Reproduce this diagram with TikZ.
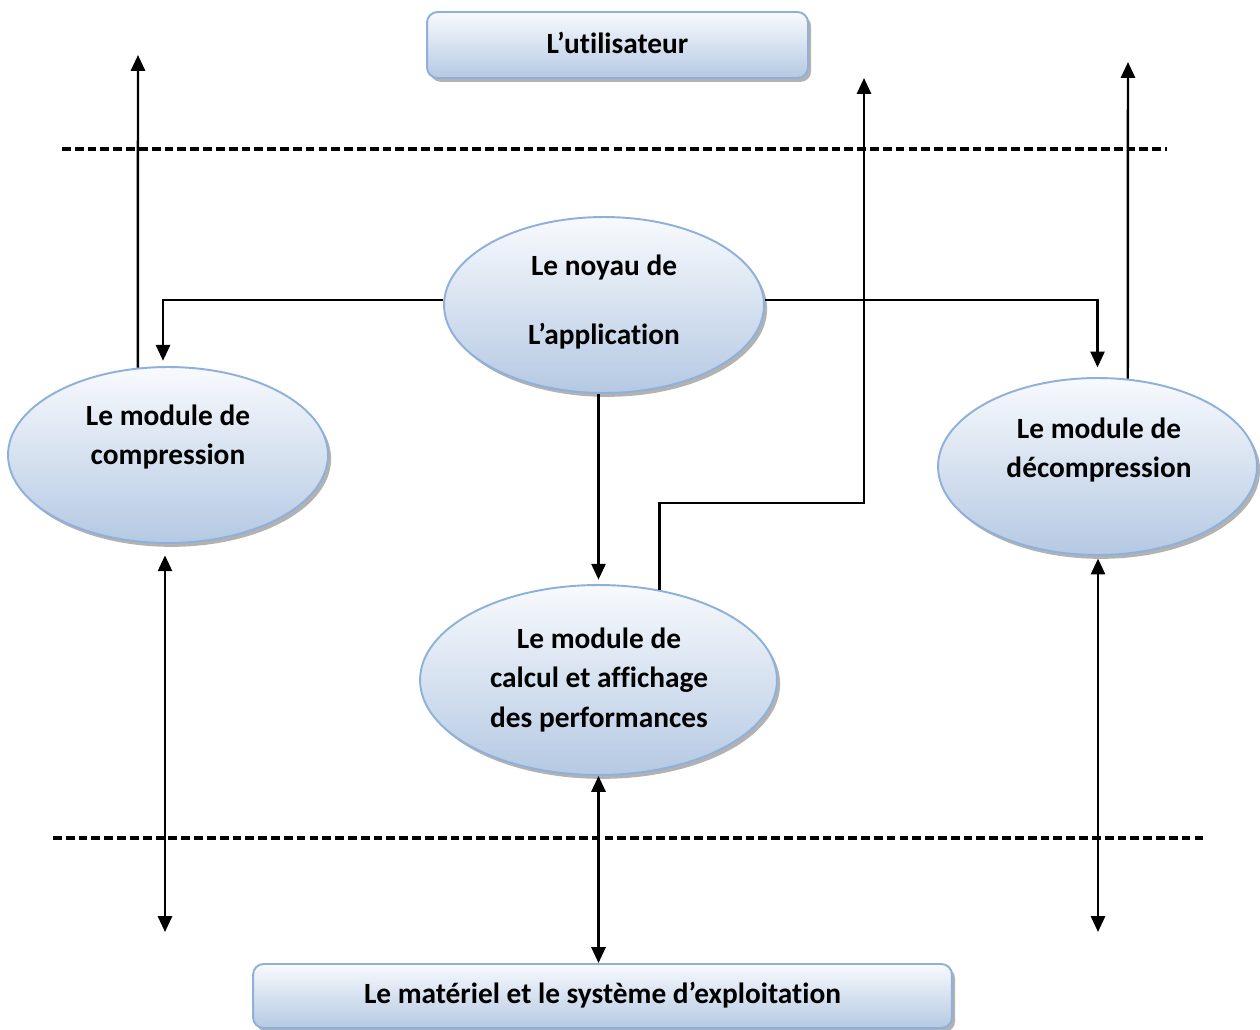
\documentclass[tikz,border=0pt]{standalone}
\usepackage{fontspec}
\setmainfont[Ligatures=NoCommon]{Carlito}
\usetikzlibrary{arrows.meta,shapes.geometric,shadows,calc}
\definecolor{edge}{HTML}{8EB0DA}
\definecolor{topc}{HTML}{F8FAFD}
\definecolor{botc}{HTML}{B5C9E3}
\tikzset{
  softshadow/.style={drop shadow={shadow xshift=1.8pt,shadow yshift=-2.2pt,fill=black!55,opacity=.55}},
  bubble/.style={ellipse, draw=edge, line width=1.1pt, top color=topc, bottom color=botc, softshadow, inner sep=0pt},
  layer/.style={rectangle, rounded corners=6pt, draw=edge, line width=1.1pt, top color=topc, bottom color=botc, softshadow, inner sep=0pt},
  lbl/.style={font=\bfseries\fontsize{16.7}{22.7}\selectfont, align=center, inner sep=0pt},
  arr/.style={line width=1.4pt, -{Triangle[width=8pt,length=9pt]}},
  darr/.style={line width=1.4pt, {Triangle[width=8pt,length=9pt]}-{Triangle[width=8pt,length=9pt]}},
  sep/.style={line width=2pt, dash pattern=on 5pt off 2.3pt},
}
\begin{document}
\begin{tikzpicture}[x=0.02cm,y=-0.02cm]
\useasboundingbox (0,0) rectangle (1260,1030);

% layers
\node[layer, minimum width=7.62cm, minimum height=1.32cm] (user) at (617.5,45) {};
\node[lbl] (userT) at (617.5,43) {L’utilisateur};
\node[layer, minimum width=13.98cm, minimum height=1.28cm] (hw) at (602.5,996) {};
\node[lbl] (hwT) at (602.5,995) {Le matériel et le système d’exploitation};

% modules
\node[bubble, minimum width=6.4cm, minimum height=3.52cm] (core) at (604,305) {};
\node[lbl, font=\bfseries\fontsize{16.7}{39}\selectfont] (coreT) at (604,302) {Le noyau de\\L’application};
\node[bubble, minimum width=6.4cm, minimum height=3.52cm] (comp) at (168,455) {};
\node[lbl] (compT) at (168,437) {Le module de\\compression};
\node[bubble, minimum width=6.38cm, minimum height=3.54cm] (decomp) at (1097.5,466.5) {};
\node[lbl] (decompT) at (1099,450) {Le module de\\décompression};
\node[bubble, minimum width=7.14cm, minimum height=3.8cm] (calc) at (598.5,680) {};
\node[lbl] (calcT) at (599,680) {Le module de\\calcul et affichage\\des performances};

% layer separators
\coordinate (s1a) at (62,149);  \coordinate (s1b) at (1167,149);
\coordinate (s2a) at (53,838);  \coordinate (s2b) at (1203,838);
\draw[sep] (s1a) -- (s1b);
\draw[sep] (s2a) -- (s2b);

% connector ends
\coordinate (upC) at (138,55);
\coordinate (upD) at (1128,62);
\coordinate (bend) at (864,503);
\coordinate (upK) at (864,78);
\coordinate (dnC) at (165,932);
\coordinate (dnD) at (1098,932);
\coordinate (inC) at (163,0);

% flows
\draw[arr] (comp.109) -- (upC);
\draw[arr] (decomp.71) -- (upD);
\draw[arr, shorten >=3pt] ([yshift=0.1cm]core.west) -| (inC |- comp.north);
\draw[arr, shorten >=5.5pt] ([yshift=0.1cm]core.east) -| (decomp.north);
\draw[arr, shorten >=2.5pt] (calc.north |- core.south) -- (calc.north);
\draw[arr] (calc.56) |- (bend) -- (upK);
\draw[darr, shorten <=6.5pt] (comp.south -| dnC) -- (dnC);
\draw[darr, shorten <=1.5pt] (decomp.south -| dnD) -- (dnD);
\draw[darr] (calc.south) -- (calc.south |- hw.north);
\end{tikzpicture}
\end{document}
